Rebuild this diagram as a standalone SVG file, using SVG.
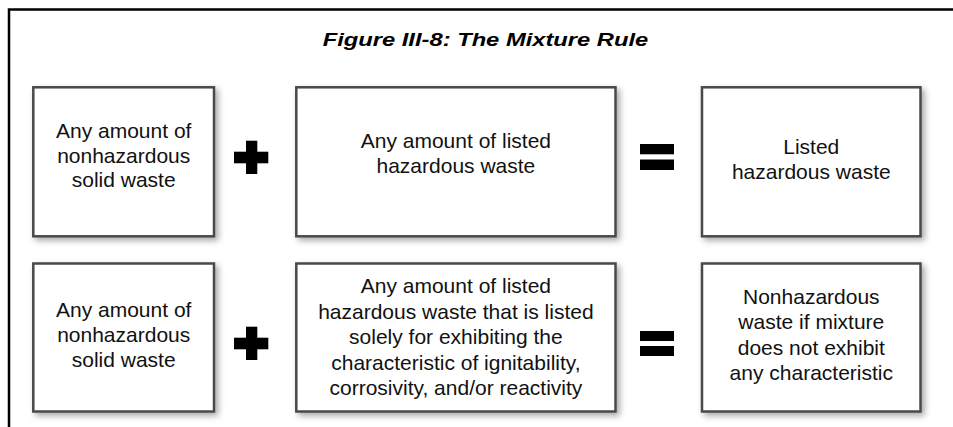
<svg xmlns="http://www.w3.org/2000/svg" width="953" height="427" viewBox="0 0 953 427">
  <defs>
    <filter id="shadow" x="-10%" y="-10%" width="125%" height="125%">
      <feDropShadow dx="3" dy="3" stdDeviation="3" flood-color="#000" flood-opacity="0.35"/>
    </filter>
    <style>
      .box { fill: #ffffff; stroke: #4a4a4a; stroke-width: 2.5; filter: url(#shadow); }
      .txt { font-family: "Liberation Sans", Arial, sans-serif; font-size: 21px; fill: #111; text-anchor: middle; }
      .title { font-family: "Liberation Sans", Arial, sans-serif; font-size: 19px; font-weight: bold; font-style: italic; fill: #000; }
      .sym { fill: #000; }
    </style>
  </defs>
  <rect width="953" height="427" fill="#ffffff"/>
  <rect x="9" y="9.5" width="960" height="430" fill="none" stroke="#000" stroke-width="2.5"/>
  <text class="title" x="322.7" y="45.7" textLength="325.6" lengthAdjust="spacingAndGlyphs">Figure III-8: The Mixture Rule</text>

  <g id="r1-nonhaz">
    <rect class="box" x="33.3" y="87.3" width="180.7" height="149"/>
    <text class="txt" x="123.7" y="138">Any amount of</text>
    <text class="txt" x="123.7" y="162.5">nonhazardous</text>
    <text class="txt" x="123.7" y="187">solid waste</text>
  </g>
  <g id="r1-listed">
    <rect class="box" x="296.3" y="87.3" width="319.2" height="149"/>
    <text class="txt" x="455.9" y="147.5">Any amount of listed</text>
    <text class="txt" x="455.9" y="173">hazardous waste</text>
  </g>
  <g id="r1-result">
    <rect class="box" x="702" y="87.3" width="218.5" height="149"/>
    <text class="txt" x="811.3" y="154.3">Listed</text>
    <text class="txt" x="811.3" y="178.5">hazardous waste</text>
  </g>

  <g id="r2-nonhaz">
    <rect class="box" x="33.3" y="263.5" width="180.7" height="148"/>
    <text class="txt" x="123.7" y="316.7">Any amount of</text>
    <text class="txt" x="123.7" y="341.7">nonhazardous</text>
    <text class="txt" x="123.7" y="366.7">solid waste</text>
  </g>
  <g id="r2-listed">
    <rect class="box" x="296.3" y="263.5" width="319.2" height="148"/>
    <text class="txt" x="455.9" y="293.3">Any amount of listed</text>
    <text class="txt" x="455.9" y="318.7">hazardous waste that is listed</text>
    <text class="txt" x="455.9" y="344">solely for exhibiting the</text>
    <text class="txt" x="455.9" y="369.5">characteristic of ignitability,</text>
    <text class="txt" x="455.9" y="395">corrosivity, and/or reactivity</text>
  </g>
  <g id="r2-result">
    <rect class="box" x="702" y="263.5" width="218.5" height="148"/>
    <text class="txt" x="811.3" y="303.5">Nonhazardous</text>
    <text class="txt" x="811.3" y="329">waste if mixture</text>
    <text class="txt" x="811.3" y="354.5">does not exhibit</text>
    <text class="txt" x="811.3" y="380">any characteristic</text>
  </g>

  <g id="connectors">
    <g id="r1-plus" class="sym">
      <rect x="246" y="140.7" width="11.3" height="33.3"/>
      <rect x="234" y="151.7" width="34.3" height="11.6"/>
    </g>
    <g id="r1-equals" class="sym">
      <rect x="640" y="144" width="34" height="10.3"/>
      <rect x="640" y="159.5" width="34" height="10.5"/>
    </g>
    <g id="r2-plus" class="sym">
      <rect x="246" y="326.7" width="11.3" height="33.3"/>
      <rect x="234" y="337.7" width="34.3" height="11.6"/>
    </g>
    <g id="r2-equals" class="sym">
      <rect x="640" y="331" width="34" height="10"/>
      <rect x="640" y="346" width="34" height="10"/>
    </g>
  </g>
</svg>
